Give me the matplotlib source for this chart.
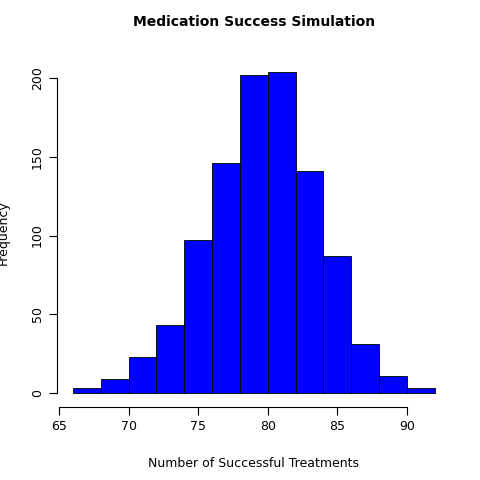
import matplotlib
matplotlib.use("Agg")
import matplotlib.pyplot as plt

bin_edges = [66, 68, 70, 72, 74, 76, 78, 80, 82, 84, 86, 88, 90, 92]
counts = [3, 9, 23, 43, 97, 146, 202, 204, 141, 87, 31, 11, 3]

fig = plt.figure(figsize=(4.8, 4.8), dpi=100)
ax = fig.add_axes([0.1217, 0.1544, 0.814, 0.723])
ax.bar(bin_edges[:-1], counts, width=2, align='edge', color='blue',
       edgecolor='black', linewidth=0.6)
ax.set_xlim(64.96, 93.04)
ax.set_ylim(-8.16, 212.16)
ax.spines['top'].set_visible(False)
ax.spines['right'].set_visible(False)
ax.spines['left'].set_bounds(0, 200)
ax.spines['bottom'].set_bounds(65, 90)
ax.spines['left'].set_position(('outward', 1))
ax.spines['bottom'].set_position(('outward', 1))
ax.set_xticks([65, 70, 75, 80, 85, 90])
ax.set_yticks([0, 50, 100, 150, 200])
ax.tick_params(labelsize=9, length=6)
for lbl in ax.get_yticklabels():
    lbl.set_rotation(90)
    lbl.set_va('center')
ax.set_title("Medication Success Simulation", fontsize=10, fontweight='bold', pad=24)
ax.set_xlabel("Number of Successful Treatments", fontsize=9)
ax.set_ylabel("Frequency", fontsize=9)
ax.xaxis.set_label_coords(0.5, -0.147)
ax.yaxis.set_label_coords(-0.124, 0.5)
fig.savefig("out.png", dpi=100)
